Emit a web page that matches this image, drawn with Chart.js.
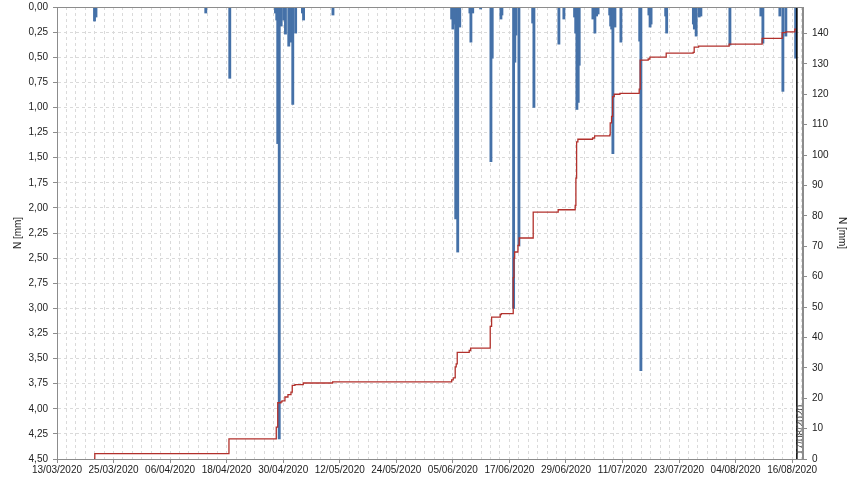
<!DOCTYPE html>
<html>
<head>
<meta charset="utf-8">
<title>N [mm]</title>
<script src="https://cdn.jsdelivr.net/npm/chart.js@4.4.1/dist/chart.umd.min.js"></script>
<style>
    html, body { margin: 0; padding: 0; background: #ffffff; }
    #chart { display: block; }
</style>
</head>
<body>
<canvas id="chart" width="860" height="477"></canvas>
<script>
// day 0 = 13/03/2020, one date label every 12 days
const dateLabels = [
    "13/03/2020", "25/03/2020", "06/04/2020", "18/04/2020", "30/04/2020",
    "12/05/2020", "24/05/2020", "05/06/2020", "17/06/2020", "29/06/2020",
    "11/07/2020", "23/07/2020", "04/08/2020", "16/08/2020"
];
const labelStepDays = 12;
const gridStepDays = 2;
const lastDay = 158.3;

// marker line (17/08/2020)
const markerDay = 157;
const markerLabel = "17/08/2020";

// precipitation per interval [mm] (left axis, hanging from the top)
const barDays = [
    7.96, 8.27, 31.57, 36.66, 46.36, 46.63, 46.84, 47.16, 47.57, 48.12,
    48.48, 49.18, 49.60, 50.03, 50.64, 52.08, 52.32, 58.56, 83.74, 84.01,
    84.29, 84.61, 85.03, 85.46, 87.62, 87.83, 88.21, 89.89, 92.08, 92.35,
    94.20, 94.41, 96.89, 97.15, 97.38, 98.02, 100.94, 101.20, 106.50, 107.56,
    109.83, 110.07, 110.32, 110.60, 110.81, 113.72, 114.14, 114.50, 114.82, 117.28,
    117.49, 117.70, 117.96, 118.39, 119.66, 123.65, 123.90, 125.60, 125.85, 126.06,
    129.16, 129.37, 135.04, 135.25, 135.63, 136.27, 136.63, 142.79, 149.36, 149.79,
    153.39, 154.03, 154.66, 156.74
];
const barDepths = [
    0.14, 0.10, 0.06, 0.71, 0.06, 0.13, 1.36, 4.30, 0.19, 0.13,
    0.27, 0.39, 0.35, 0.97, 0.26, 0.06, 0.13, 0.08, 0.12, 0.22,
    0.17, 2.11, 2.44, 0.20, 0.06, 0.35, 0.06, 0.02, 1.54, 0.51,
    0.12, 0.08, 3.00, 0.55, 0.28, 2.38, 0.16, 1.00, 0.37, 0.12,
    0.10, 0.26, 1.02, 0.95, 0.58, 0.12, 0.26, 0.09, 0.07, 0.08,
    0.19, 0.22, 1.46, 0.20, 0.35, 0.34, 3.62, 0.08, 0.20, 0.17,
    0.09, 0.26, 0.17, 0.22, 0.29, 0.10, 0.09, 0.38, 0.09, 0.36,
    0.09, 0.84, 0.29, 0.51
];

// cumulative total [mm] (right axis), value holds from each day onward
const cumDays = [
    7.85, 8.02, 36.49, 46.53, 46.84, 47.52, 47.74, 48.37, 49.01, 49.65,
    49.92, 50.49, 52.25, 58.49, 83.74, 84.08, 84.50, 84.71, 84.93, 87.47,
    87.77, 91.93, 92.22, 94.05, 94.26, 96.81, 96.96, 97.11, 97.81, 98.08,
    101.05, 106.35, 109.96, 110.11, 110.26, 110.53, 113.65, 114.08, 117.32, 117.39,
    117.68, 117.90, 118.24, 119.45, 123.54, 123.75, 125.45, 125.81, 129.27, 134.99,
    135.21, 136.14, 142.63, 149.63, 153.88, 154.66, 156.57, 156.89
];
const cumTotals = [
    0, 1.8, 6.6, 10.5, 18.5, 18.8, 19.1, 20.4, 21.2, 22.0,
    24.2, 24.5, 25.0, 25.4, 26.0, 26.7, 30.3, 31.3, 35.1, 35.7,
    36.5, 43.6, 46.7, 47.5, 47.8, 59.7, 66.1, 68.1, 70.3, 72.7,
    81.2, 82.0, 83.4, 92.4, 104.3, 105.2, 105.6, 106.3, 106.7, 110.6,
    112.7, 119.2, 120.0, 120.3, 121.7, 131.2, 131.6, 132.2, 133.5, 133.8,
    135.5, 135.8, 136.5, 138.4, 140.3, 140.5, 141.4, 141.4
];

const textFont = { family: "'Liberation Sans', Arial, sans-serif", size: 10 };
const textColor = "#222222";
const axisColor = "#8c8c8c";
const gridColor = "#dadada";

// grey frame + marker line with its label
const framePlugin = {
    id: "frame",
    afterDatasetsDraw(chart) {
        const { ctx, chartArea } = chart;
        const x = chart.scales.x.getPixelForValue(markerDay);

        ctx.save();
        ctx.strokeStyle = "#000000";
        ctx.lineWidth = 1.5;
        ctx.beginPath();
        ctx.moveTo(x, chartArea.top);
        ctx.lineTo(x, chartArea.bottom);
        ctx.stroke();

        // label sits partly outside the plot, only its edge shows
        ctx.beginPath();
        ctx.rect(chartArea.left, chartArea.top, chartArea.width, chartArea.height);
        ctx.clip();
        ctx.translate(x + 4.5, chartArea.bottom - 4);
        ctx.rotate(-Math.PI / 2);
        ctx.fillStyle = "#444444";
        ctx.font = "10px 'Liberation Sans', Arial, sans-serif";
        ctx.textAlign = "left";
        ctx.textBaseline = "middle";
        ctx.fillText(markerLabel, 0, 0);
        ctx.restore();

        ctx.save();
        ctx.strokeStyle = axisColor;
        ctx.lineWidth = 1;
        ctx.strokeRect(chartArea.left + 0.5, chartArea.top + 0.5, chartArea.width - 1, chartArea.height);
        ctx.restore();
    }
};

// fixed axis sizes so the plot area sits where the original has it
function fixVertical(scale) {
    scale.width = 57;
    scale.paddingTop = 0;
    scale.paddingBottom = 0;
}

function fixHorizontal(scale) {
    scale.height = 18;
    scale.paddingLeft = 0;
    scale.paddingRight = 0;
}

function buildChart() {
    const canvas = document.getElementById("chart");

    const bars = barDays.map((d, i) => ({ x: d, y: barDepths[i] }));
    const totals = cumDays.map((d, i) => ({ x: d, y: cumTotals[i] }));

    new Chart(canvas.getContext("2d"), {
        type: "bar",
        data: {
            datasets: [
                {
                    type: "line",
                    label: "N sum",
                    data: totals,
                    yAxisID: "y2",
                    stepped: true,
                    borderColor: "#b2312c",
                    borderWidth: 1.3,
                    pointRadius: 0,
                    fill: false,
                    order: 0
                },
                {
                    type: "bar",
                    label: "N",
                    data: bars,
                    yAxisID: "y",
                    backgroundColor: "#4571a8",
                    borderWidth: 0,
                    barThickness: 2.2,
                    order: 1
                }
            ]
        },
        plugins: [framePlugin],
        options: {
            responsive: false,
            animation: false,
            layout: { padding: { top: 7, left: 0, right: 0, bottom: 0 } },
            plugins: {
                legend: { display: false },
                tooltip: { enabled: false }
            },
            scales: {
                x: {
                    type: "linear",
                    min: 0,
                    max: lastDay,
                    offset: false,
                    afterBuildTicks: scale => {
                        const ticks = [];
                        for (let d = 0; d <= lastDay; d += gridStepDays) ticks.push({ value: d });
                        scale.ticks = ticks;
                    },
                    afterFit: fixHorizontal,
                    ticks: {
                        autoSkip: false,
                        maxRotation: 0,
                        padding: 1,
                        font: textFont,
                        color: textColor,
                        callback: v => (v % labelStepDays === 0 ? dateLabels[v / labelStepDays] : "")
                    },
                    grid: {
                        offset: false,
                        color: gridColor,
                        tickLength: 4,
                        tickColor: c => (c.tick && c.tick.value % labelStepDays === 0 ? axisColor : "rgba(0,0,0,0)")
                    },
                    border: { color: axisColor, dash: [3, 3] }
                },
                y: {
                    type: "linear",
                    position: "left",
                    reverse: true,
                    min: 0,
                    max: 4.5,
                    afterFit: fixVertical,
                    ticks: {
                        stepSize: 0.25,
                        padding: 5,
                        font: textFont,
                        color: textColor,
                        callback: v => v.toFixed(2).replace(".", ",")
                    },
                    grid: { color: gridColor, tickLength: 4, tickColor: axisColor },
                    border: { color: axisColor, dash: [3, 3] },
                    title: {
                        display: true,
                        text: "N [mm]",
                        font: textFont,
                        color: textColor,
                        padding: { top: 12, bottom: 0 }
                    }
                },
                y2: {
                    type: "linear",
                    position: "right",
                    min: 0,
                    max: 148.7,
                    afterFit: fixVertical,
                    ticks: {
                        stepSize: 10,
                        includeBounds: false,
                        padding: 5,
                        font: textFont,
                        color: textColor
                    },
                    grid: { drawOnChartArea: false, tickLength: 4, tickColor: axisColor },
                    border: { color: axisColor },
                    title: {
                        display: true,
                        text: "N [mm]",
                        font: textFont,
                        color: textColor,
                        padding: { top: 12, bottom: 0 }
                    }
                }
            }
        }
    });
}

document.addEventListener("DOMContentLoaded", buildChart);
</script>
</body>
</html>
